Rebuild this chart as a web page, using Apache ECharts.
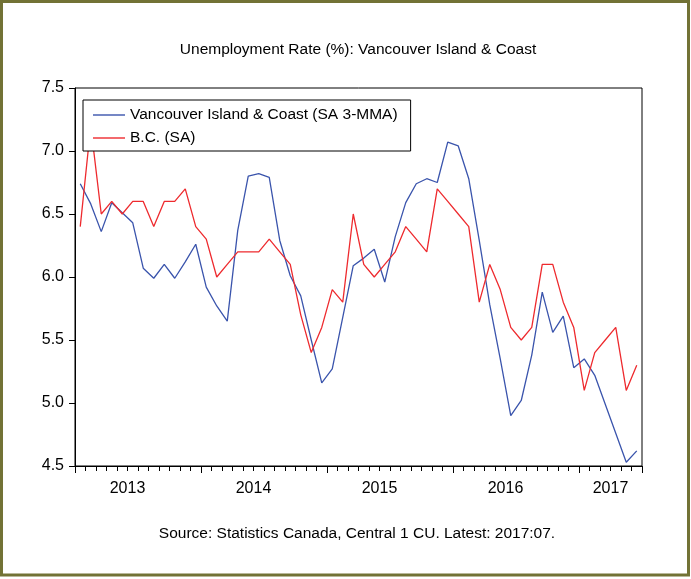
<!DOCTYPE html>
<html><head><meta charset="utf-8">
<script src="https://cdn.jsdelivr.net/npm/echarts@6/dist/echarts.min.js"></script>
<style>html,body{margin:0;padding:0;background:#fff}#c{width:691px;height:579px}</style>
</head><body><div id="c"></div>
<script>
const months = [
 '2013:02','2013:03','2013:04','2013:05','2013:06','2013:07','2013:08','2013:09','2013:10','2013:11','2013:12',
 '2014:01','2014:02','2014:03','2014:04','2014:05','2014:06','2014:07','2014:08','2014:09','2014:10','2014:11','2014:12',
 '2015:01','2015:02','2015:03','2015:04','2015:05','2015:06','2015:07','2015:08','2015:09','2015:10','2015:11','2015:12',
 '2016:01','2016:02','2016:03','2016:04','2016:05','2016:06','2016:07','2016:08','2016:09','2016:10','2016:11','2016:12',
 '2017:01','2017:02','2017:03','2017:04','2017:05','2017:06','2017:07'
];
const vanIsland = [
 6.74,6.58,6.36,6.59,6.51,6.43,6.07,5.99,6.10,5.99,6.12,
 6.26,5.92,5.77,5.65,6.37,6.80,6.82,6.79,6.29,6.01,5.85,5.50,
 5.16,5.27,5.68,6.09,6.15,6.22,5.96,6.32,6.59,6.74,6.78,6.75,
 7.07,7.04,6.78,6.29,5.78,5.35,4.90,5.02,5.38,5.88,5.56,5.69,
 5.28,5.35,5.22,4.99,4.76,4.53,4.62
];
const bc = [
 6.4,7.2,6.5,6.6,6.5,6.6,6.6,6.4,6.6,6.6,6.7,
 6.4,6.3,6.0,6.1,6.2,6.2,6.2,6.3,6.2,6.1,5.7,5.4,
 5.6,5.9,5.8,6.5,6.1,6.0,6.1,6.2,6.4,6.3,6.2,6.7,
 6.6,6.5,6.4,5.8,6.1,5.9,5.6,5.5,5.6,6.1,6.1,5.8,
 5.6,5.1,5.4,5.5,5.6,5.1,5.3
];
const yearLabels = ['2013','2014','2015','2016','2017'];
const yearLabelAt = ['2013:07','2014:07','2015:07','2016:07','2017:05'];
const yTicks = [4.5,5.0,5.5,6.0,6.5,7.0,7.5];
const seriesNames = ['Vancouver Island & Coast (SA 3-MMA)','B.C. (SA)'];
const titleText = 'Unemployment Rate (%): Vancouver Island & Coast';
const sourceText = 'Source: Statistics Canada, Central 1 CU. Latest: 2017:07.';

const FONT = "'Liberation Sans', Arial, sans-serif";
const labelMap = {};
yearLabelAt.forEach((m,k)=>{ labelMap[months.indexOf(m)] = yearLabels[k]; });
const toXY = arr => arr.map((v,i)=>[i+0.5, v]);
const firstJan = months.findIndex(m=>m.endsWith(':01'));

const chart = echarts.init(document.getElementById('c'), null, {renderer:'canvas'});
chart.setOption({
  animation:false,
  backgroundColor:'#fff',
  textStyle:{fontFamily:FONT},
  grid:{left:75,top:88,width:567,height:378,show:true,borderColor:'#000',borderWidth:1,backgroundColor:'transparent'},
  legend:{
    orient:'vertical', left:83, top:100,
    data:seriesNames,
    icon:'rect',
    backgroundColor:'#fff', borderColor:'#000', borderWidth:1,
    padding:[6,13,4,10], itemGap:5, itemWidth:32, itemHeight:1.4,
    textStyle:{fontFamily:FONT,fontSize:15.5,color:'#000',lineHeight:18},
    selectedMode:false
  },
  xAxis:[{
    type:'value', min:0, max:months.length, interval:1,
    axisLine:{lineStyle:{color:'#000',width:1}},
    axisTick:{show:true,length:5,lineStyle:{color:'#000'}},
    axisLabel:{fontFamily:FONT,fontSize:16,color:'#000',margin:15,
      formatter:v=> labelMap[Math.round(v)] !== undefined && Math.abs(v-Math.round(v))<1e-6 ? labelMap[Math.round(v)] : ''},
    splitLine:{show:false}
  },{
    type:'value', position:'bottom', min:firstJan-12, max:months.length+firstJan-12, interval:12,
    axisLine:{show:false},
    axisTick:{show:true,length:7,lineStyle:{color:'#000'}},
    axisLabel:{show:false}, splitLine:{show:false}
  }],
  yAxis:{
    type:'value', min:yTicks[0], max:yTicks[yTicks.length-1], interval:0.5,
    axisLine:{show:true,lineStyle:{color:'#000',width:1}},
    axisTick:{show:true,length:6,lineStyle:{color:'#000'}},
    axisLabel:{fontFamily:FONT,fontSize:16,color:'#000',margin:11,formatter:v=>v.toFixed(1)},
    splitLine:{show:false}
  },
  series:[{
    name:seriesNames[0], type:'line', xAxisIndex:0, symbol:'none',
    data:toXY(vanIsland), lineStyle:{color:'#3a54ac',width:1.3}, itemStyle:{color:'#3a54ac'}
  },{
    name:seriesNames[1], type:'line', xAxisIndex:0, symbol:'none',
    data:toXY(bc), lineStyle:{color:'#ee2a2e',width:1.3}, itemStyle:{color:'#ee2a2e'}
  }],
  graphic:[
    {type:'rect', shape:{x:1.5,y:1.5,width:687,height:573.5}, style:{fill:'none',stroke:'#727235',lineWidth:3}, silent:true},
    {type:'text', x:358, y:50, style:{text:titleText, font:"15.5px 'Liberation Sans', Arial, sans-serif", fill:'#000', textAlign:'center', textVerticalAlign:'middle'}},
    {type:'text', x:357, y:534, style:{text:sourceText, font:"15.5px 'Liberation Sans', Arial, sans-serif", fill:'#000', textAlign:'center', textVerticalAlign:'middle'}}
  ]
});
</script></body></html>
